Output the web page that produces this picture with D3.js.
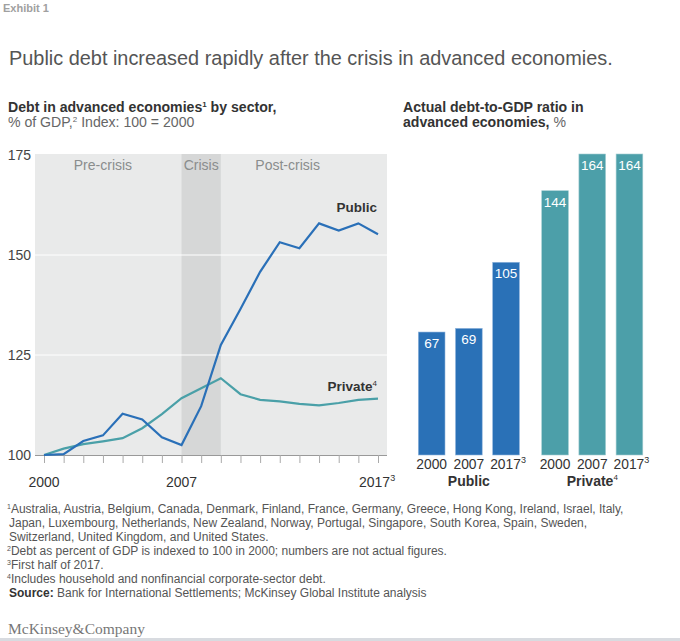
<!DOCTYPE html>
<html><head><meta charset="utf-8">
<script src="https://cdn.jsdelivr.net/npm/d3@7"></script>
<style>
html,body{margin:0;padding:0;background:#fff;}
svg{display:block;font-family:"Liberation Sans",Arial,Helvetica,sans-serif;}
</style></head>
<body>
<svg id="c" width="680" height="641"></svg>
<script>
// ---- data ----
const years = d3.range(2000, 2018);
const publicIndex  = [100,100.2,103.5,104.9,110.3,108.9,104.4,102.5,112.2,127.5,136.5,145.8,153.2,151.7,157.9,156.1,157.9,155.2];
const privateIndex = [100,101.6,102.7,103.4,104.2,106.7,110.2,114.2,116.7,119.2,115.2,113.8,113.4,112.8,112.4,113.0,113.8,114.1];
const yTicks = [100,125,150,175];
const xTickLabels = [[2000,"2000",""],[2007,"2007",""],[2017,"2017","3"]];
const phases = [{name:"Pre-crisis",at:2003.0},{name:"Crisis",at:2008.0},{name:"Post-crisis",at:2012.4}];
const crisisSpan = [2007, 2009];

const barGroups = ["Public","Private"];
const barYears = ["2000","2007","2017"];
const publicBars  = [67,69,105];
const privateBars = [144,164,164];

const footnotes = [
  ["1","Australia, Austria, Belgium, Canada, Denmark, Finland, France, Germany, Greece, Hong Kong, Ireland, Israel, Italy,"],
  ["","Japan, Luxembourg, Netherlands, New Zealand, Norway, Portugal, Singapore, South Korea, Spain, Sweden,"],
  ["","Switzerland, United Kingdom, and United States."],
  ["2","Debt as percent of GDP is indexed to 100 in 2000; numbers are not actual figures."],
  ["3","First half of 2017."],
  ["4","Includes household and nonfinancial corporate-sector debt."]
];

const cPublic = "#2a70b8", cPrivate = "#4aa0a8";
const cBarPublic = "#2a71b7", cBarPrivate = "#4c9fa9";

const svg = d3.select("#c");

// header
svg.append("text").attr("x",3).attr("y",12).attr("font-size",11).attr("font-weight","bold").attr("fill","#a0a0a0").text("Exhibit 1");
svg.append("text").attr("x",9).attr("y",65).attr("font-size",19.9).attr("fill","#555").text("Public debt increased rapidly after the crisis in advanced economies.");

const st1 = svg.append("text").attr("x",8).attr("y",112).attr("font-size",14.1).attr("font-weight","bold").attr("fill","#333");
st1.append("tspan").text("Debt in advanced economies");
st1.append("tspan").attr("font-size",8).attr("dy",-5).text("1");
st1.append("tspan").attr("dy",5).text(" by sector,");
const st2 = svg.append("text").attr("x",8).attr("y",127).attr("font-size",14.1).attr("fill","#666");
st2.append("tspan").text("% of GDP,");
st2.append("tspan").attr("font-size",8).attr("dy",-5).text("2");
st2.append("tspan").attr("dy",5).text(" Index: 100 = 2000");

svg.append("text").attr("x",403).attr("y",112).attr("font-size",14.1).attr("font-weight","bold").attr("fill","#333").text("Actual debt-to-GDP ratio in");
const st3 = svg.append("text").attr("x",403).attr("y",127).attr("font-size",14.1).attr("fill","#333");
st3.append("tspan").attr("font-weight","bold").text("advanced economies,");
st3.append("tspan").attr("fill","#666").text(" %");

// ---- line chart ----
const x = d3.scaleLinear().domain([2000,2017]).range([44,378]);
const y = d3.scaleLinear().domain([100,175]).range([455,155]);
const g = svg.append("g");
g.append("rect").attr("x",35).attr("y",154).attr("width",352).attr("height",301).attr("fill","#e9eaea");
g.append("rect").attr("x",x(crisisSpan[0])).attr("y",154).attr("width",x(crisisSpan[1])-x(crisisSpan[0])).attr("height",301).attr("fill","#d6d7d7");
g.selectAll(".grid").data(yTicks.filter(d=>d>100 && d<175)).join("line")
  .attr("x1",35).attr("x2",387).attr("y1",d=>y(d)).attr("y2",d=>y(d)).attr("stroke","#fff").attr("stroke-width",1);
g.selectAll(".ylab").data(yTicks).join("text")
  .attr("x",31).attr("y",d=>y(d)+5).attr("text-anchor","end").attr("font-size",14).attr("fill","#444").text(d=>d);

// x axis
const xa = g.append("g").attr("transform","translate(0,455)")
  .call(d3.axisBottom(x).tickValues(years).tickSize(8).tickFormat(""));
xa.select(".domain").attr("d","M35,0.5H387").attr("stroke","#999");
xa.selectAll(".tick line").attr("stroke","#aaa");
xTickLabels.forEach(([yr,lab,sup])=>{
  const t = g.append("text").attr("x",x(yr)).attr("y",487).attr("text-anchor","middle").attr("font-size",14).attr("fill","#333");
  t.append("tspan").text(lab);
  if(sup){ t.attr("text-anchor","start").attr("x",x(yr)-19); t.append("tspan").attr("font-size",9).attr("dy",-6).text(sup); }
});

phases.forEach(p=>{
  g.append("text").attr("x",x(p.at)).attr("y",170).attr("text-anchor","middle").attr("font-size",14).attr("fill","#8a8d8d").text(p.name);
});

const line = d3.line().x((d,i)=>x(years[i])).y(d=>y(d));
g.append("path").datum(privateIndex).attr("d",line).attr("fill","none").attr("stroke",cPrivate).attr("stroke-width",2.2);
g.append("path").datum(publicIndex).attr("d",line).attr("fill","none").attr("stroke",cPublic).attr("stroke-width",2.2);

g.append("text").attr("x",377).attr("y",212).attr("text-anchor","end").attr("font-size",13.5).attr("font-weight","bold").attr("fill","#333").text("Public");
const pl = g.append("text").attr("x",377).attr("y",391).attr("text-anchor","end").attr("font-size",13.5).attr("font-weight","bold").attr("fill","#333");
pl.append("tspan").text("Private");
pl.append("tspan").attr("font-size",8).attr("font-weight","normal").attr("dy",-5).text("4");

// ---- bar chart ----
const bars = [];
barGroups.forEach((grp,gi)=>{
  const vals = gi===0 ? publicBars : privateBars;
  barYears.forEach((yr,i)=>bars.push({grp,yr,v:vals[i]}));
});
const xGroup = d3.scaleBand().domain(barGroups).range([418.3,665.1]).paddingInner(0);
const xInner = d3.scaleBand().domain(barYears).range([0,111.6+12.5]).paddingInner(0.283).paddingOuter(0);
const xPos = d=> xGroup(d.grp) + barYears.indexOf(d.yr)*37.2;
const yb = d3.scaleLinear().domain([0,164]).range([455,154]);
const bw = 26.7;
const bg = svg.append("g");
bg.selectAll("rect.bar").data(bars).join("rect")
  .attr("x",xPos).attr("width",bw)
  .attr("y",d=>yb(d.v)).attr("height",d=>yb(0)-yb(d.v))
  .attr("fill",d=>d.grp==="Public"?cBarPublic:cBarPrivate)
  .attr("stroke",d=>d.grp==="Public"?"#8fb4dc":"#a3cdd2").attr("stroke-width",0.6);
bg.selectAll("text.val").data(bars).join("text")
  .attr("x",d=>xPos(d)+bw/2).attr("y",d=>yb(d.v)+16).attr("text-anchor","middle")
  .attr("font-size",13.5).attr("fill","#fff").text(d=>d.v);
bg.selectAll("text.yr").data(bars).join("text")
  .attr("x",d=>xPos(d)+bw/2 + (d.yr==="2017"?2:0)).attr("y",469).attr("text-anchor","middle")
  .attr("font-size",13.8).attr("fill","#333")
  .each(function(d){
    const t=d3.select(this);
    t.append("tspan").text(d.yr);
    if(d.yr==="2017"){ t.append("tspan").attr("font-size",9).attr("dy",-6).text("3"); }
  });
barGroups.forEach((grp,gi)=>{
  const first = bars.find(b=>b.grp===grp && b.yr==="2000"), last = bars.find(b=>b.grp===grp && b.yr==="2017");
  const cx = (xPos(first)+xPos(last)+bw)/2;
  const t = bg.append("text").attr("x",cx).attr("y",486).attr("text-anchor","middle").attr("font-size",14).attr("font-weight","bold").attr("fill","#333");
  t.append("tspan").text(grp);
  if(grp==="Private"){ t.append("tspan").attr("font-size",8).attr("font-weight","normal").attr("dy",-6).text("4"); }
});

// ---- footnotes ----
const fn = svg.append("g").attr("font-size",12).attr("fill","#555");
footnotes.forEach(([sup,txt],i)=>{
  const t = fn.append("text").attr("x", sup? 7 : 9).attr("y",512.5+i*14.1);
  if(sup){ t.append("tspan").attr("font-size",7).attr("dy",-4).text(sup); t.append("tspan").attr("dy",4).text(txt); }
  else t.append("tspan").text(txt);
});
const src = fn.append("text").attr("x",9).attr("y",512.5+6*14.1);
src.append("tspan").attr("font-weight","bold").attr("fill","#333").text("Source:");
src.append("tspan").text(" Bank for International Settlements; McKinsey Global Institute analysis");

svg.append("text").attr("x",8).attr("y",634).attr("font-family","'Liberation Serif','Times New Roman',serif").attr("font-size",15.5).attr("fill","#777").text("McKinsey&Company");
svg.append("rect").attr("x",0).attr("y",638).attr("width",680).attr("height",3).attr("fill","#d8dbe0");
</script>
</body></html>
